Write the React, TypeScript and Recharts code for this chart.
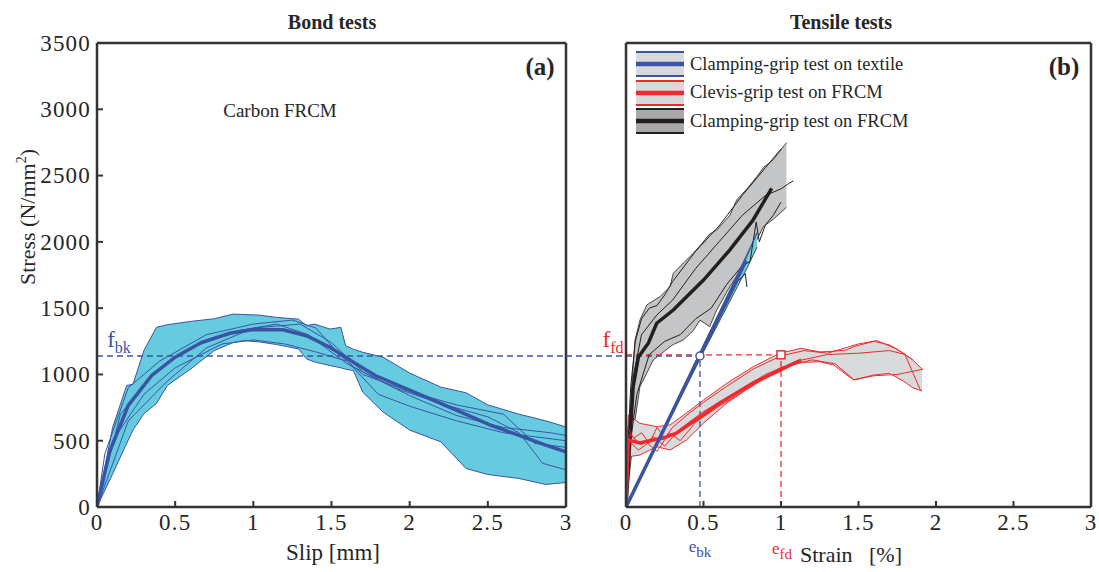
import React from 'react';
import { Area, ComposedChart, Line, ReferenceDot, ReferenceLine, XAxis, YAxis } from 'recharts';

const BLUE = '#3a54a4';
const RED = '#ee2a2e';
const BLACK = '#231f20';
const INK = '#262626';
const SERIF = '"Liberation Serif", "Times New Roman", serif';

const stressTicks = [0, 500, 1000, 1500, 2000, 2500, 3000, 3500];
const xTicks = [0, 0.5, 1, 1.5, 2, 2.5, 3];

// bond tests: slip [mm] vs stress
const bondSlip = [0, 0.1, 0.19, 0.23, 0.3, 0.38, 0.45, 0.6, 0.75, 0.87, 0.94, 1.04, 1.15, 1.29, 1.34, 1.39, 1.49, 1.56, 1.59, 1.64, 1.7, 1.83, 2.0, 2.2, 2.36, 2.5, 2.7, 2.87, 3.0];
const bondHigh = [0, 600, 917, 925, 1180, 1355, 1375, 1400, 1420, 1455, 1452, 1447, 1430, 1417, 1367, 1380, 1342, 1355, 1217, 1190, 1167, 1130, 1010, 904, 862, 770, 700, 650, 604];
const bondLow = [0, 250, 480, 580, 704, 780, 917, 1042, 1180, 1240, 1255, 1245, 1225, 1192, 1117, 1095, 1067, 1050, 1040, 1029, 866, 716, 580, 491, 291, 245, 215, 170, 185];

const bondMean = [[0, 0], [0.08, 415], [0.2, 766], [0.35, 992], [0.5, 1130], [0.67, 1242], [0.85, 1310], [0.99, 1337], [1.19, 1337], [1.34, 1292], [1.49, 1205], [1.64, 1092], [1.78, 992], [1.98, 892], [2.18, 791], [2.35, 704], [2.52, 616], [2.7, 541], [2.87, 466], [3.0, 416]];
const bond1 = [[0, 0], [0.05, 400], [0.2, 900], [0.4, 1100], [0.7, 1300], [1.0, 1380], [1.25, 1410], [1.4, 1350], [1.55, 1150], [1.7, 1000], [2.0, 870], [2.3, 770], [2.6, 700], [2.8, 480], [3.0, 450]];
const bond2 = [[0, 0], [0.1, 500], [0.3, 850], [0.5, 1050], [0.8, 1230], [1.0, 1260], [1.2, 1230], [1.4, 1170], [1.6, 1100], [1.8, 850], [2.0, 760], [2.3, 650], [2.6, 560], [2.8, 530], [3.0, 500]];
const bond3 = [[0, 0], [0.15, 700], [0.35, 1000], [0.6, 1200], [0.9, 1330], [1.15, 1380], [1.35, 1300], [1.6, 1080], [1.9, 900], [2.2, 780], [2.5, 680], [2.7, 560], [2.85, 330], [3.0, 280]];
const bond4 = [[0, 0], [0.2, 650], [0.45, 950], [0.7, 1200], [1.0, 1350], [1.3, 1380], [1.5, 1240], [1.7, 1020], [2.0, 840], [2.3, 690], [2.6, 600], [2.9, 560], [3.0, 540]];

// tensile tests: strain [%] vs stress
const textileBandStrain = [0, 0.5, 0.78, 0.845];
const textileBandLow = [0, 1170, 1800, 1960];
const textileBandHigh = [0, 1220, 1890, 2070];
const textileMean = [[0, 0], [0.775, 1860]];
const textile1 = [[0, 0], [0.845, 2064]];
const textile2 = [[0, 0], [0.72, 1700], [0.77, 1760], [0.78, 1660]];

const clevisStrain = [0, 0.015, 0.09, 0.198, 0.284, 0.39, 0.5, 0.65, 0.82, 0.993, 1.13, 1.25, 1.34, 1.42, 1.47, 1.6, 1.7, 1.79, 1.85, 1.91];
const clevisHigh = [0, 694, 631, 606, 619, 709, 807, 933, 1058, 1160, 1197, 1170, 1175, 1184, 1210, 1250, 1222, 1160, 1109, 1040];
const clevisLow = [0, 379, 392, 455, 430, 505, 633, 784, 920, 1048, 1090, 1096, 1071, 1000, 958, 996, 1008, 950, 900, 875];
const clevisMean = [[0, 0], [0.015, 505], [0.09, 483], [0.176, 505], [0.24, 520], [0.327, 558], [0.477, 679], [0.606, 784], [0.82, 935], [0.993, 1033], [1.13, 1109]];
const clevis1 = [[0, 0], [0.01, 600], [0.05, 520], [0.1, 560], [0.15, 480], [0.2, 600], [0.25, 520], [0.3, 600], [0.4, 700], [0.5, 790], [0.65, 910], [0.82, 1040], [1.0, 1140], [1.15, 1180], [1.3, 1160], [1.5, 1230], [1.62, 1255], [1.75, 1190], [1.85, 1110]];
const clevis2 = [[0, 0], [0.015, 500], [0.08, 430], [0.14, 480], [0.2, 420], [0.28, 560], [0.35, 500], [0.45, 640], [0.6, 760], [0.8, 900], [1.0, 1050], [1.2, 1110], [1.35, 1080], [1.47, 960], [1.6, 990], [1.75, 1000], [1.92, 1040]];
const clevis3 = [[0, 0], [0.02, 550], [0.1, 470], [0.18, 530], [0.25, 460], [0.35, 590], [0.5, 720], [0.7, 860], [0.9, 1000], [1.1, 1100], [1.3, 1150], [1.5, 1160], [1.7, 1180], [1.8, 1150], [1.9, 880]];

const clampStrain = [0, 0.013, 0.037, 0.058, 0.09, 0.134, 0.176, 0.22, 0.284, 0.305, 0.37, 0.434, 0.477, 0.54, 0.585, 0.67, 0.714, 0.78, 0.843, 0.886, 0.95, 1.035];
const clampHigh = [0, 406, 907, 1260, 1410, 1524, 1555, 1587, 1662, 1763, 1840, 1914, 1970, 2060, 2089, 2200, 2316, 2400, 2490, 2560, 2620, 2748];
const clampLow = [0, 150, 406, 656, 907, 1010, 1109, 1150, 1209, 1225, 1260, 1330, 1410, 1360, 1486, 1662, 1740, 1838, 2014, 2114, 2170, 2260];
const clampMean = [[0, 0], [0.026, 528], [0.046, 905], [0.08, 1131], [0.144, 1236], [0.198, 1386], [0.305, 1486], [0.5, 1712], [0.67, 1939], [0.82, 2165], [0.94, 2404]];
const clamp1 = [[0, 0], [0.02, 600], [0.05, 1000], [0.1, 1300], [0.2, 1450], [0.3, 1560], [0.45, 1800], [0.6, 2000], [0.75, 2200], [0.9, 2350], [1.0, 2400], [1.05, 2440], [1.08, 2460]];
const clamp2 = [[0, 0], [0.03, 500], [0.07, 850], [0.15, 1150], [0.25, 1250], [0.35, 1300], [0.45, 1420], [0.55, 1500], [0.65, 1680], [0.75, 1820], [0.8, 1850], [0.84, 2150], [0.86, 2000], [0.9, 2130], [0.95, 2200], [1.0, 2300]];
const clamp3 = [[0, 0], [0.01, 400], [0.03, 900], [0.06, 1250], [0.1, 1420], [0.15, 1500], [0.2, 1520], [0.25, 1600], [0.3, 1700], [0.45, 1930], [0.6, 2120], [0.75, 2350], [0.9, 2560], [1.0, 2700]];

const fbk = 1139;
const ffd = 1148;
const ebk = 0.477;
const efd = 1.0;

const pts = (arr: number[][]) => arr.map(([x, y]) => ({ x, y }));
const band = (xs: number[], lo: number[], hi: number[]) => xs.map((x, i) => ({ x, r: [lo[i], hi[i]] }));

const axisLine = { stroke: '#333', strokeWidth: 2.5 };
const tickLine = { stroke: '#333', strokeWidth: 2 };

const XTick = (p: any) => (
  <text x={p.x} y={p.y} dy="0.72em" textAnchor="middle" fill={INK} fontSize={23} letterSpacing={1.2} fontFamily={SERIF}>
    {p.payload.value}
  </text>
);
const YTick = (p: any) => (
  <text x={p.x} y={p.y} dy="0.34em" textAnchor="end" fill={INK} fontSize={23} letterSpacing={1.2} fontFamily={SERIF}>
    {p.payload.value}
  </text>
);

const thin = (data: number[][], color: string, key: string) => (
  <Line key={key} data={pts(data)} dataKey="y" type="linear" stroke={color} strokeWidth={1} dot={false} isAnimationActive={false} />
);
const thick = (data: number[][], color: string) => (
  <Line data={pts(data)} dataKey="y" type="linear" stroke={color} strokeWidth={3.5} dot={false} isAnimationActive={false} />
);

const Txt = ({ x, y, style, children }: { x: number; y: number; style?: React.CSSProperties; children: React.ReactNode }) => (
  <div style={{ position: 'absolute', left: x, top: y, transform: 'translate(-50%, -50%)', whiteSpace: 'nowrap', fontFamily: SERIF, color: INK, lineHeight: 1, ...style }}>
    {children}
  </div>
);

const Swatch = ({ fill, color }: { fill: string; color: string }) => (
  <svg width={48} height={26} style={{ display: 'block' }}>
    <rect x={0} y={0} width={48} height={26} fill={fill} />
    <line x1={0} x2={48} y1={1} y2={1} stroke={color} strokeWidth={2} />
    <line x1={0} x2={48} y1={13} y2={13} stroke={color} strokeWidth={4.5} />
    <line x1={0} x2={48} y1={25} y2={25} stroke={color} strokeWidth={2} />
  </svg>
);

const legendItems = [
  { label: 'Clamping-grip test on textile', fill: '#d8d9db', color: BLUE },
  { label: 'Clevis-grip test on FRCM', fill: '#d8d9db', color: RED },
  { label: 'Clamping-grip test on FRCM', fill: '#a7a8aa', color: BLACK },
];

export default function App() {
  return (
    <div style={{ position: 'absolute', left: 0, top: 0, width: 1099, height: 572, background: '#fff', fontFamily: SERIF }}>
      <div style={{ position: 'absolute', left: 0, top: 0 }}>
        <ComposedChart width={600} height={572} margin={{ top: 42, right: 33, bottom: 25, left: 37 }}>
          <XAxis dataKey="x" type="number" domain={[0, 3]} ticks={xTicks} allowDataOverflow height={40}
            axisLine={axisLine} tickLine={tickLine} tickSize={-6} tickMargin={12} tick={<XTick />} />
          <XAxis xAxisId="top" orientation="top" type="number" domain={[0, 3]} ticks={xTicks} height={1}
            axisLine={axisLine} tickLine={tickLine} tickSize={-6} tick={false} />
          <YAxis type="number" domain={[0, 3500]} ticks={stressTicks} allowDataOverflow width={60}
            axisLine={axisLine} tickLine={tickLine} tickSize={-6} tickMargin={12} tick={<YTick />} />
          <YAxis yAxisId="right" orientation="right" type="number" domain={[0, 3500]} ticks={stressTicks} width={1}
            axisLine={axisLine} tickLine={tickLine} tickSize={-6} tick={false} />
          <Line data={pts([[0, fbk], [3, fbk]])} dataKey="y" type="linear" stroke={BLUE} strokeWidth={1.3}
            strokeDasharray="6 4" dot={false} isAnimationActive={false} />
          <Area data={band(bondSlip, bondLow, bondHigh)} dataKey="r" type="linear" fill="#66cbde" fillOpacity={1}
            stroke={BLUE} strokeWidth={1} isAnimationActive={false} />
          {thin(bond1, BLUE, 'b1')}
          {thin(bond2, BLUE, 'b2')}
          {thin(bond3, BLUE, 'b3')}
          {thin(bond4, BLUE, 'b4')}
          {thick(bondMean, BLUE)}
        </ComposedChart>
      </div>

      <div style={{ position: 'absolute', left: 566, top: 0 }}>
        <ComposedChart width={533} height={572} margin={{ top: 42, right: 7, bottom: 25, left: 59 }}>
          <XAxis dataKey="x" type="number" domain={[0, 3]} ticks={xTicks} allowDataOverflow height={40}
            axisLine={axisLine} tickLine={tickLine} tickSize={-6} tickMargin={12} tick={<XTick />} />
          <XAxis xAxisId="top" orientation="top" type="number" domain={[0, 3]} ticks={xTicks} height={1}
            axisLine={axisLine} tickLine={tickLine} tickSize={-6} tick={false} />
          <YAxis type="number" domain={[0, 3500]} ticks={stressTicks} allowDataOverflow width={1}
            axisLine={axisLine} tickLine={false} tick={false} />
          <YAxis yAxisId="right" orientation="right" type="number" domain={[0, 3500]} width={1}
            axisLine={axisLine} tickLine={false} tick={false} />
          <ReferenceLine segment={[{ x: -0.387, y: fbk }, { x: ebk, y: fbk }]} stroke={BLUE} strokeWidth={1.3} strokeDasharray="6 4" ifOverflow="visible" />
          <ReferenceLine segment={[{ x: ebk, y: 0 }, { x: ebk, y: fbk }]} stroke={BLUE} strokeWidth={1.3} strokeDasharray="6 4" ifOverflow="visible" />
          <ReferenceLine segment={[{ x: 0, y: ffd }, { x: efd, y: ffd }]} stroke={RED} strokeWidth={1.3} strokeDasharray="6 4" ifOverflow="visible" />
          <ReferenceLine segment={[{ x: efd, y: 0 }, { x: efd, y: ffd }]} stroke={RED} strokeWidth={1.3} strokeDasharray="6 4" ifOverflow="visible" />

          <Area data={band(clampStrain, clampLow, clampHigh)} dataKey="r" type="linear" fill="#c4c5c7" fillOpacity={1}
            stroke={BLACK} strokeWidth={0.8} isAnimationActive={false} />
          {thin(clamp1, BLACK, 'k1')}
          {thin(clamp2, BLACK, 'k2')}
          {thin(clamp3, BLACK, 'k3')}
          {thick(clampMean, BLACK)}

          <Area data={band(clevisStrain, clevisLow, clevisHigh)} dataKey="r" type="linear" fill="#d9dadb" fillOpacity={1}
            stroke={RED} strokeWidth={1} isAnimationActive={false} />
          {thin(clevis1, RED, 'r1')}
          {thin(clevis2, RED, 'r2')}
          {thin(clevis3, RED, 'r3')}
          {thick(clevisMean, RED)}

          <Area data={band(textileBandStrain, textileBandLow, textileBandHigh)} dataKey="r" type="linear" fill="#6fd0e0" fillOpacity={1}
            stroke={BLACK} strokeWidth={0.8} isAnimationActive={false} />
          {thin(textile1, BLUE, 't1')}
          {thin(textile2, BLACK, 't2')}
          {thick(textileMean, BLUE)}

          <ReferenceDot x={ebk} y={fbk} r={4} fill="#fff" stroke={BLUE} strokeWidth={1.5} ifOverflow="visible" />
          <ReferenceDot x={efd} y={ffd} ifOverflow="visible"
            shape={(p: any) => <rect x={p.cx - 4} y={p.cy - 4} width={8} height={8} fill="#fff" stroke={RED} strokeWidth={1.5} />} />
        </ComposedChart>
      </div>

      <Txt x={332} y={22} style={{ fontSize: 20, fontWeight: 'bold' }}>Bond tests</Txt>
      <Txt x={841} y={22} style={{ fontSize: 20, fontWeight: 'bold' }}>Tensile tests</Txt>
      <Txt x={540} y={66} style={{ fontSize: 25, fontWeight: 'bold' }}>(a)</Txt>
      <Txt x={1064} y={66} style={{ fontSize: 25, fontWeight: 'bold' }}>(b)</Txt>
      <Txt x={280} y={110} style={{ fontSize: 19 }}>Carbon FRCM</Txt>
      <Txt x={333} y={552} style={{ fontSize: 23 }}>Slip [mm]</Txt>
      <Txt x={851} y={555} style={{ fontSize: 22 }}>Strain&nbsp;&nbsp; [%]</Txt>
      <Txt x={27} y={217} style={{ fontSize: 22, transform: 'translate(-50%, -50%) rotate(-90deg)' }}>
        Stress (N/mm<sup style={{ fontSize: 14 }}>2</sup>)
      </Txt>
      <Txt x={119} y={342} style={{ fontSize: 23, color: BLUE }}>
        f<sub style={{ fontSize: 16 }}>bk</sub>
      </Txt>
      <Txt x={613} y={342} style={{ fontSize: 23, color: RED }}>
        f<sub style={{ fontSize: 16 }}>fd</sub>
      </Txt>
      <Txt x={700} y={549} style={{ fontSize: 17, color: BLUE }}>
        e<sub style={{ fontSize: 15 }}>bk</sub>
      </Txt>
      <Txt x={782} y={551} style={{ fontSize: 17, color: RED }}>
        e<sub style={{ fontSize: 15 }}>fd</sub>
      </Txt>

      <div style={{ position: 'absolute', left: 636, top: 50 }}>
        {legendItems.map((it) => (
          <div key={it.label} style={{ display: 'flex', alignItems: 'center', height: 28.5 }}>
            <Swatch fill={it.fill} color={it.color} />
            <span style={{ marginLeft: 6, fontSize: 18.5, color: INK, fontFamily: SERIF }}>{it.label}</span>
          </div>
        ))}
      </div>
    </div>
  );
}
